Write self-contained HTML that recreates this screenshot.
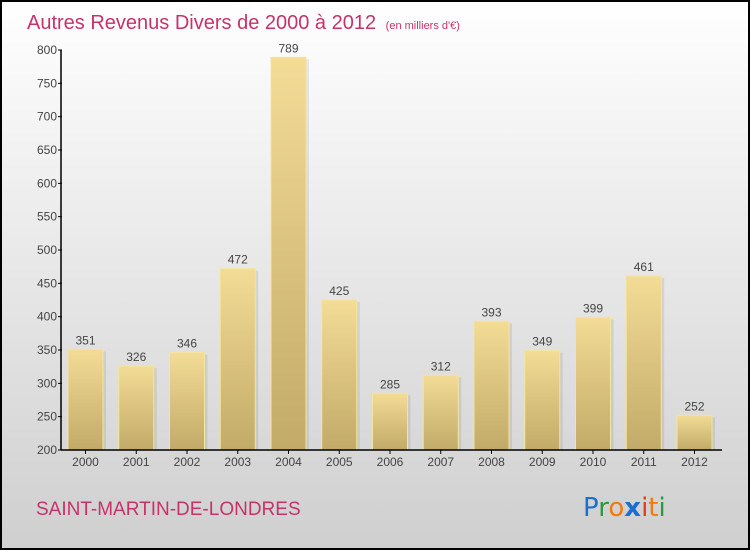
<!DOCTYPE html>
<html><head><meta charset="utf-8"><style>
html,body{margin:0;padding:0}
body{width:750px;height:550px;overflow:hidden;font-family:"Liberation Sans",sans-serif}
#wrap{position:absolute;left:0;top:0;width:746px;height:546px;border:2px solid #000;background:linear-gradient(#ffffff,#cfcfcf)}
</style></head><body>
<div id="wrap"></div>
<svg id="chart" width="750" height="550" style="position:absolute;left:0;top:0">
<defs>
<linearGradient id="bg" x1="0" y1="0" x2="0" y2="1"><stop offset="0" stop-color="#f3dc96"/><stop offset="1" stop-color="#c2aa68"/></linearGradient>
</defs>
<text x="27" y="29" font-size="20" fill="#c8326a">Autres Revenus Divers de 2000 à 2012 <tspan font-size="11" dx="4">(en milliers d'€)</tspan></text>
<text x="36" y="515" font-size="19" fill="#c8326a">SAINT-MARTIN-DE-LONDRES</text>
<g font-size="26" font-family="'DejaVu Sans',sans-serif">
<text x="583" y="516"><tspan fill="#1a6fd0">P</tspan><tspan fill="#2a9a3a">r</tspan><tspan fill="#f07a10">o</tspan><tspan fill="#1a6fd0" font-weight="bold">x</tspan><tspan fill="#e83a1a">i</tspan><tspan fill="#f07a10">t</tspan><tspan fill="#2a9a3a">i</tspan></text>
</g>
<g id="plot"></g>
</svg>
<script>
const categories=["2000","2001","2002","2003","2004","2005","2006","2007","2008","2009","2010","2011","2012"];
const values=[351,326,346,472,789,425,285,312,393,349,399,461,252];
const yTicks=[200,250,300,350,400,450,500,550,600,650,700,750,800];
const NS="http://www.w3.org/2000/svg";
const g=document.getElementById('plot');
const y=v=>450-(v-200)*400/600;
const x=i=>68+i*50.75;
const bw=35;
function el(t,a){const e=document.createElementNS(NS,t);for(const k in a)e.setAttribute(k,a[k]);g.appendChild(e);return e;}
values.forEach((v,i)=>{
  const sh=el('rect',{x:x(i)+3,y:y(v)+2,width:bw,height:450-y(v)-2,fill:'#000','fill-opacity':0.08});
  
  
  const r=el('rect',{x:x(i),y:y(v),width:bw,height:450-y(v),fill:'url(#bg)',stroke:'#f5e49e','stroke-width':1});
  
  
  const t=el('text',{x:x(i)+bw/2,y:y(v)-5,'text-anchor':'middle','font-size':12,fill:'#444'});
  t.textContent=v;
  
  
  const c=el('text',{x:x(i)+bw/2,y:466,'text-anchor':'middle','font-size':12,fill:'#444'});
  c.textContent=categories[i];
  
  
  const tk=el('line',{x1:x(i)+bw/2,x2:x(i)+bw/2,y1:450,y2:454,stroke:'#000'});
  
  
});
yTicks.forEach(v=>{
  const l=el('line',{x1:58,x2:62,y1:y(v),y2:y(v),stroke:'#000'});
  
  
  const t=el('text',{x:57,y:y(v)+4,'text-anchor':'end','font-size':12,fill:'#444'});
  t.textContent=v;
  
  
});
const ya=el('line',{x1:61,x2:61,y1:50,y2:450,stroke:'#000','stroke-width':1.5});


const xa=el('line',{x1:61,x2:722,y1:450,y2:450,stroke:'#000','stroke-width':1.5});


</script>
</body></html>
